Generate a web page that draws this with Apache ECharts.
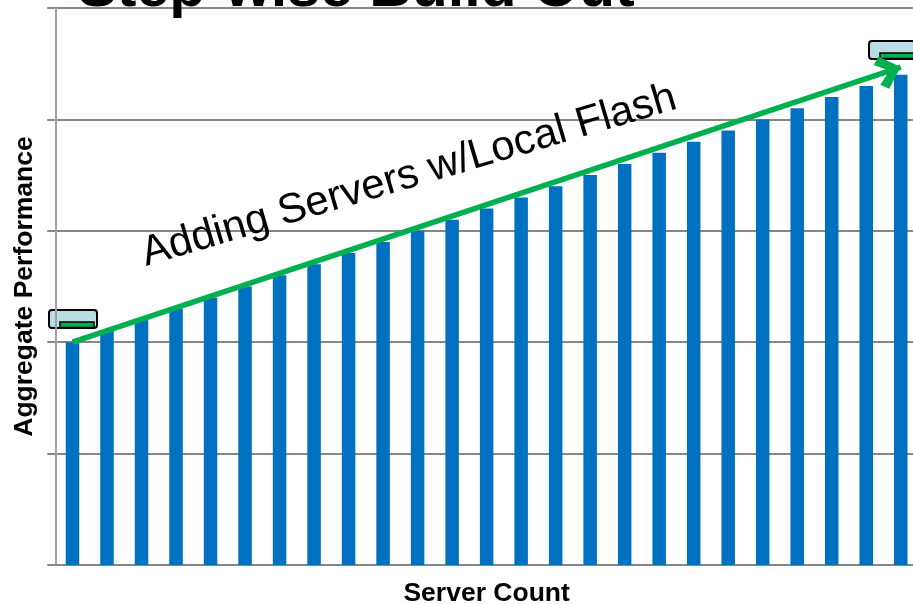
<!DOCTYPE html>
<html>
<head>
<meta charset="utf-8">
<title>Step-wise Build Out</title>
<script src="https://cdn.jsdelivr.net/npm/echarts@6/dist/echarts.min.js"></script>
<style>
html, body { margin: 0; padding: 0; background: #fff; overflow: hidden; }
#chart { width: 913px; height: 604px; }
</style>
</head>
<body>
<div id="chart"></div>
<script>
const titleText = 'Step-wise Build Out'
const yAxisName = 'Aggregate Performance'
const xAxisName = 'Server Count'
const arrowLabel = 'Adding Servers w/Local Flash'

const serverCounts = ['1', '2', '3', '4', '5', '6', '7', '8', '9', '10', '11', '12', '13',
  '14', '15', '16', '17', '18', '19', '20', '21', '22', '23', '24', '25']
const performance = [2.0, 2.1, 2.2, 2.3, 2.4, 2.5, 2.6, 2.7, 2.8, 2.9, 3.0, 3.1, 3.2,
  3.3, 3.4, 3.5, 3.6, 3.7, 3.8, 3.9, 4.0, 4.1, 4.2, 4.3, 4.4]
const arrowStart = ['1', 2.0]
const arrowEnd = ['25', 4.47]

const fontFamily = '"Liberation Sans", Arial, sans-serif'
const barColor = '#0070c0'
const arrowColor = '#00b050'
const gridColor = '#868686'

// small server icon, drawn as a rounded box with a green drive in the corner
const serverIcon = (x, y) => ({
  type: 'group',
  x,
  y,
  z: 20,
  children: [
    {
      type: 'rect',
      shape: { x: 0, y: 0, width: 48, height: 18, r: 3 },
      style: { fill: '#b9dde2', stroke: '#000', lineWidth: 2 }
    },
    {
      type: 'rect',
      shape: { x: 11, y: 12, width: 34, height: 5.5 },
      style: { fill: arrowColor, stroke: '#000', lineWidth: 1.5 }
    }
  ]
})

const chart = echarts.init(document.getElementById('chart'), null, { renderer: 'canvas' })

chart.setOption({
  animation: false,
  grid: { left: 55.25, right: -5, top: 8, bottom: 39, outerBoundsMode: 'none' },
  xAxis: {
    type: 'category',
    data: serverCounts,
    name: xAxisName,
    nameLocation: 'middle',
    nameGap: 15,
    nameTextStyle: { fontFamily, fontSize: 26.5, fontWeight: 'bold', color: '#000' },
    axisTick: { show: false },
    axisLabel: { show: false },
    axisLine: { lineStyle: { color: gridColor, width: 2 } }
  },
  yAxis: {
    type: 'value',
    min: 0,
    max: 5,
    interval: 1,
    name: yAxisName,
    nameLocation: 'middle',
    nameGap: 17,
    nameTextStyle: { fontFamily, fontSize: 26.5, fontWeight: 'bold', color: '#000' },
    axisLabel: { show: false },
    axisLine: { show: true, lineStyle: { color: '#a0a0a0', width: 2 } },
    axisTick: { show: true, length: 8, lineStyle: { color: gridColor, width: 2 } },
    splitLine: { lineStyle: { color: gridColor, width: 2 } }
  },
  series: [
    {
      type: 'bar',
      data: performance,
      barWidth: 13.5,
      clip: false,
      itemStyle: { color: barColor },
      markLine: {
        silent: true,
        // tip sits on the symbol centre, the lone M point keeps the box symmetric
        symbol: ['none', 'path://M0 -21 L0 -21 M0 0 L13 15 L8 21 L0 10 L-8 21 L-13 15 Z'],
        symbolSize: [34, 50],
        lineStyle: { color: arrowColor, width: 5.5, type: 'solid' },
        label: { show: false },
        data: [[{ coord: arrowStart }, { coord: arrowEnd }]]
      }
    }
  ],
  graphic: [
    serverIcon(49, 310),
    serverIcon(869, 41),
    {
      type: 'text',
      x: 356,
      y: 19,
      z: 20,
      style: {
        text: titleText,
        fontFamily,
        fontSize: 59,
        fontWeight: 'bold',
        fill: '#000',
        align: 'center',
        verticalAlign: 'bottom'
      }
    },
    {
      type: 'text',
      x: 409,
      y: 176,
      z: 20,
      rotation: 16.5 * Math.PI / 180,
      style: {
        text: arrowLabel,
        fontFamily,
        fontSize: 42,
        fill: '#000',
        align: 'center',
        verticalAlign: 'middle'
      }
    }
  ]
})

window.addEventListener('resize', () => chart.resize())
</script>
</body>
</html>
